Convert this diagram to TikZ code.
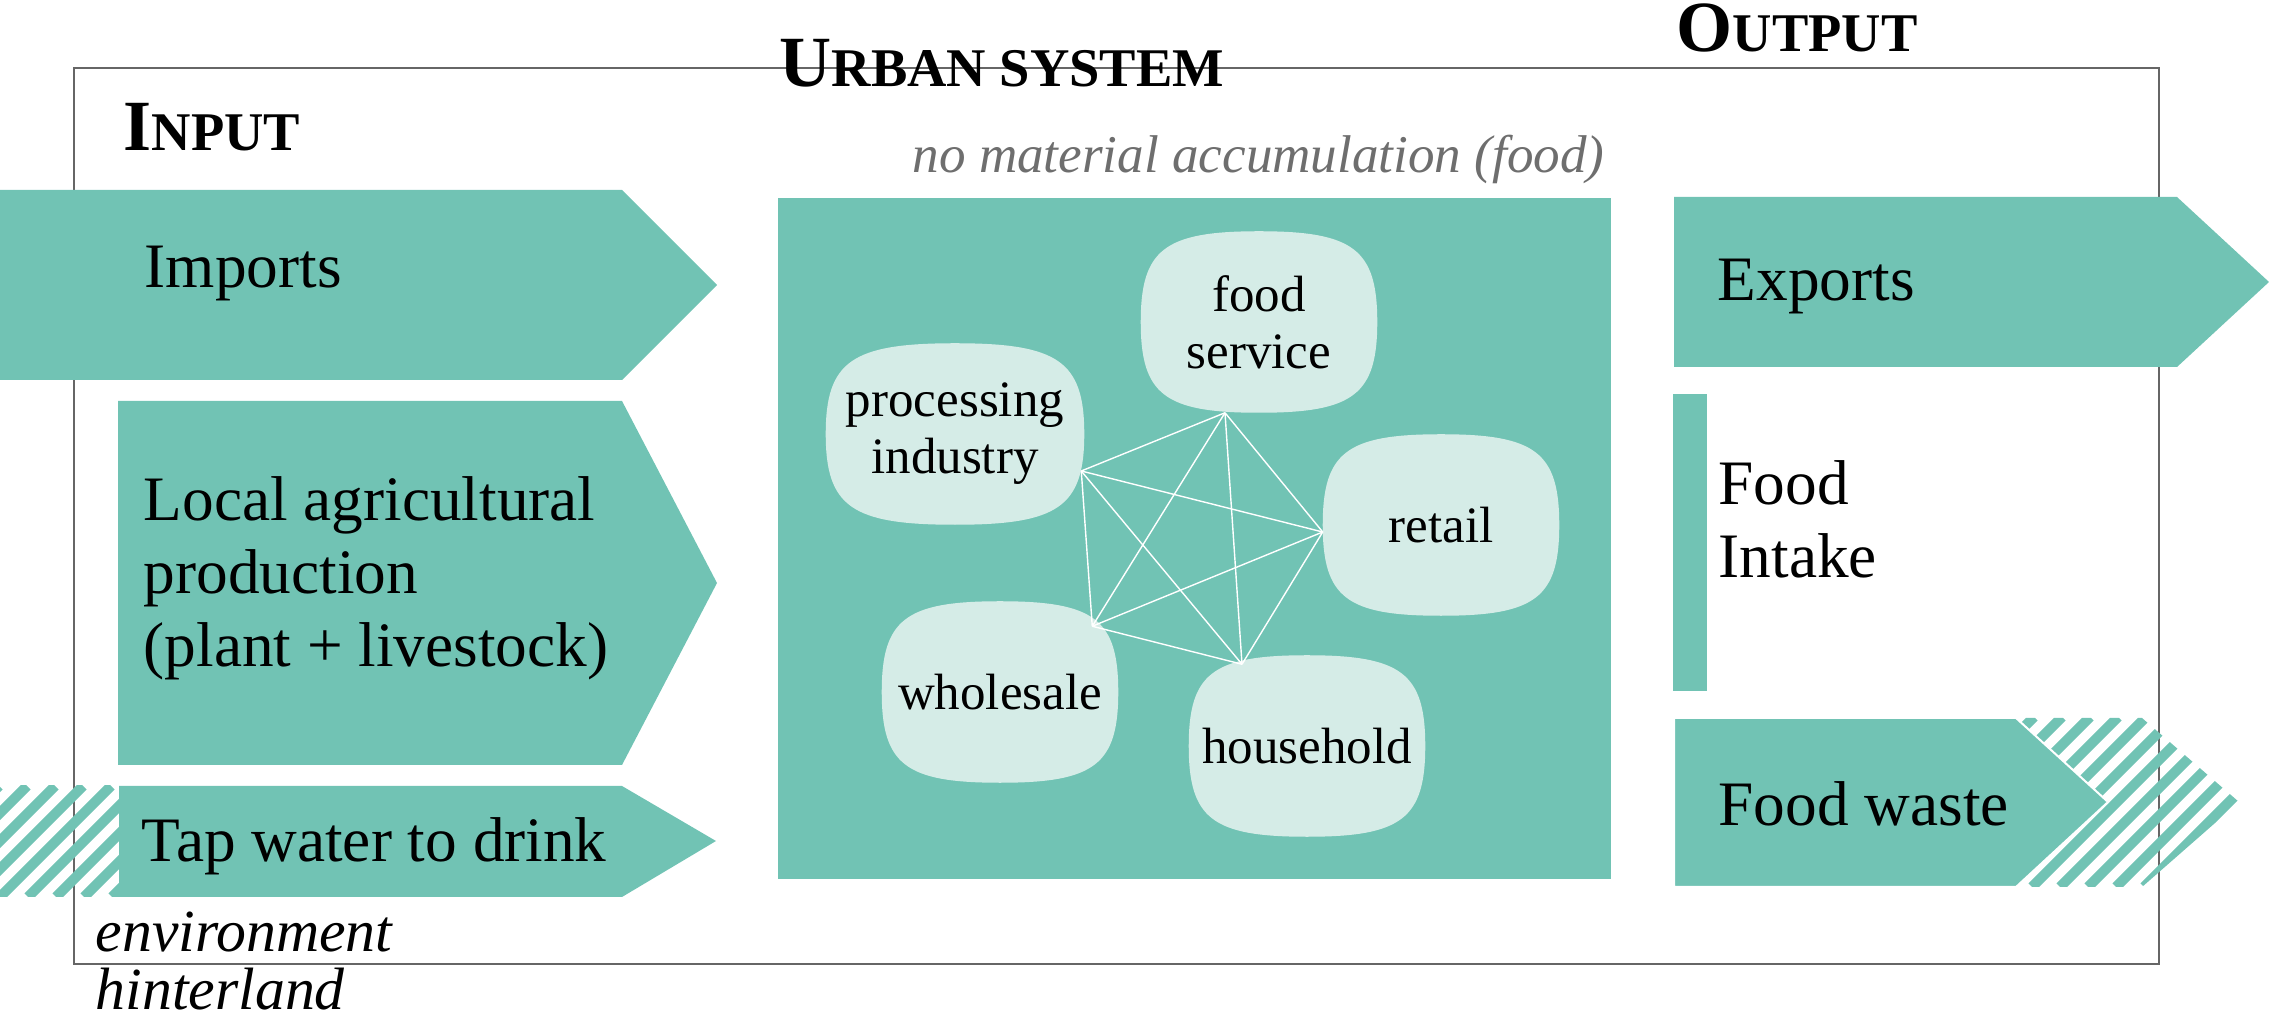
\documentclass[tikz,border=0pt]{standalone}
\usepackage{fontspec}
\setmainfont{Liberation Serif}
\usepackage{tikz}
\usetikzlibrary{calc, backgrounds}

\definecolor{flowteal}{RGB}{113,195,180}
\definecolor{blobfill}{RGB}{213,236,231}
\definecolor{notegray}{RGB}{110,110,110}

\newcommand{\boxfont}{\fontsize{18}{20.9}\selectfont}
\newcommand{\blobfont}{\fontsize{14.5}{16.2}\selectfont}
\newcommand{\fakesc}[2]{{\fontsize{20.5}{24}\selectfont #1}{\fontsize{15.5}{18}\selectfont #2}}
% squircle behind a named node
\newcommand{\squircle}[1]{\fill [blobfill]
    (#1.north) .. controls ($(#1.north)!0.8!(#1.north east)$) and ($(#1.east)!0.8!(#1.north east)$) .. (#1.east)
    .. controls ($(#1.east)!0.8!(#1.south east)$) and ($(#1.south)!0.8!(#1.south east)$) .. (#1.south)
    .. controls ($(#1.south)!0.8!(#1.south west)$) and ($(#1.west)!0.8!(#1.south west)$) .. (#1.west)
    .. controls ($(#1.west)!0.8!(#1.north west)$) and ($(#1.north)!0.8!(#1.north west)$) .. (#1.north) -- cycle;}

\tikzstyle{frame} = [draw=black!60, line width=0.6pt]
\tikzstyle{flow} = [fill=flowteal]
\tikzstyle{flowtext} = [anchor=base west, inner sep=0pt, align=left, font=\boxfont]
\tikzstyle{title} = [anchor=base west, inner sep=0pt, font=\bfseries]
\tikzstyle{blob} = [rectangle, minimum width=2.35cm, minimum height=1.8cm, align=center, font=\blobfont]
\tikzstyle{hatchline} = [draw=flowteal, line width=0.1cm]
\tikzstyle{link} = [draw=white, line width=0.4pt]

\begin{document}
\begin{tikzpicture}[x=0.01cm, y=-0.01cm]
    \useasboundingbox (0,0) rectangle (2269,1019);

    \draw [frame] (74,68) rectangle (2159,964);

    % titles
    \node (input) [title] at (123,151) {\fakesc{I}{NPUT}};
    \node (urbantitle) [title] at (779,87) {\fakesc{U}{RBAN SYSTEM}};
    \node (output) [title] at (1676,52) {\fakesc{O}{UTPUT}};
    \node (note) [anchor=base west, inner sep=0pt, text=notegray, font=\fontsize{15.1}{18}\selectfont\itshape] at (912,173) {no material accumulation (food)};

    % input arrows
    \fill [flow] (0,190) -- (622,190) -- (717,285) -- (622,380) -- (0,380) -- cycle;
    \node (imports) [flowtext] at (144,288) {Imports};

    \fill [flow] (118,401) -- (622,401) -- (717,583) -- (622,765) -- (118,765) -- cycle;
    \node (local) [flowtext] at (143,667) {Local agricultural\\production\\(plant + livestock)};

    \begin{scope}
        \clip (0,786) rectangle (119,897);
        \foreach \i in {-140,-112,...,140}
            \draw [hatchline] (\i,897) -- ++(111,-111);
    \end{scope}
    \fill [flow] (119,786) -- (622,786) -- (716,841) -- (622,897) -- (119,897) -- cycle;
    \node (tap) [flowtext] at (141,862) {Tap water to drink};

    \node (env) [flowtext, font=\fontsize{17}{20}\selectfont\itshape] at (95,952) {environment};
    \node (hinter) [flowtext, font=\fontsize{17}{20}\selectfont\itshape] at (95,1010) {hinterland};

    % urban system
    \node (service) [blob] at (1259,322) {food\\service};
    \node (proc) [blob, minimum width=2.57cm] at (955,434) {processing\\industry};
    \node (retail) [blob] at (1441,525) {retail};
    \node (wholesale) [blob] at (1000,692) {wholesale};
    \node (household) [blob] at (1307,746) {household};

    \begin{pgfonlayer}{background}
        \node (urban) [flow, anchor=north west, inner sep=0pt, minimum width=8.33cm, minimum height=6.81cm] at (777,197) {};
        \squircle{service}
        \squircle{proc}
        \squircle{retail}
        \squircle{wholesale}
        \squircle{household}
    \end{pgfonlayer}

    \coordinate (jproc) at ($(proc.east)+(-3,37)$);
    \coordinate (jservice) at ($(service.south)+(-34,0)$);
    \coordinate (jretail) at ($(retail.west)+(0,7)$);
    \coordinate (jwholesale) at ($(wholesale.north east)+(-26,25)$);
    \coordinate (jhousehold) at ($(household.north)+(-65,9)$);

    \draw [link] (jproc) -- (jservice);
    \draw [link] (jproc) -- (jretail);
    \draw [link] (jproc) -- (jwholesale);
    \draw [link] (jproc) -- (jhousehold);
    \draw [link] (jservice) -- (jretail);
    \draw [link] (jservice) -- (jwholesale);
    \draw [link] (jservice) -- (jhousehold);
    \draw [link] (jretail) -- (jwholesale);
    \draw [link] (jretail) -- (jhousehold);
    \draw [link] (jwholesale) -- (jhousehold);

    % output arrows
    \fill [flow] (1674,197) -- (2177,197) -- (2269,282) -- (2177,367) -- (1674,367) -- cycle;
    \node (exports) [flowtext] at (1717,301) {Exports};

    \fill [flow] (1673,394) rectangle (1707,691);
    \node (intake) [flowtext] at (1718,578) {Food\\Intake};

    \begin{scope}
        \clip (1674,718) -- (2142,718) -- (2239,802) -- (2142,887) -- (1674,887) -- cycle;
        \foreach \i in {1836,1864,...,2250}
            \draw [hatchline] (\i,887) -- ++(170,-170);
    \end{scope}
    \filldraw [flow, draw=white, line width=0.02cm] (1674,718) -- (2016,718) -- (2108,802) -- (2016,887) -- (1674,887) -- cycle;
    \node (waste) [flowtext] at (1718,826) {Food waste};
\end{tikzpicture}
\end{document}
